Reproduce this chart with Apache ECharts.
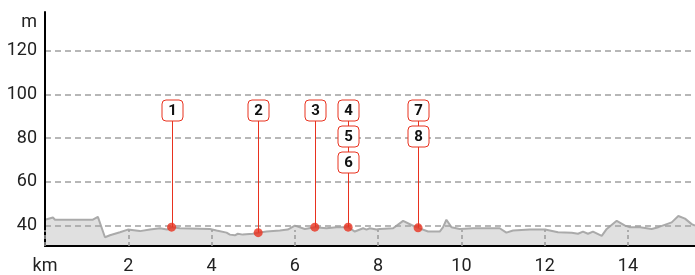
<!DOCTYPE html>
<html>
<head>
<meta charset="utf-8">
<script src="https://cdn.jsdelivr.net/npm/echarts@6/dist/echarts.min.js"></script>
<style>
  html, body { margin: 0; padding: 0; background: #fff; }
  #profile { width: 695px; height: 275px; }
</style>
</head>
<body>
<div id="profile"></div>
<script>
// elevation profile (km / m)
var distKm = [0, 0.19, 0.24, 1.15, 1.27, 1.44, 1.56, 1.80, 1.99, 2.28, 2.52, 2.76, 2.93, 3.04, 3.24,
  3.96, 4.12, 4.36, 4.44, 4.56, 4.63, 4.75, 4.99, 5.12, 5.32, 5.64, 5.83, 6.00, 6.24, 6.48,
  6.76, 7.00, 7.28, 7.44, 7.64, 7.72, 7.80, 7.96, 8.04, 8.36, 8.60, 8.80, 8.96, 9.20, 9.48,
  9.56, 9.64, 9.76, 9.96, 10.28, 10.92, 11.08, 11.24, 11.64, 12.01, 12.32, 12.65, 12.80, 12.92,
  13.04, 13.16, 13.37, 13.49, 13.73, 13.93, 14.05, 14.29, 14.57, 14.73, 15.05, 15.21, 15.37,
  15.53, 15.61];
var elevM = [42.7, 43.7, 42.7, 42.7, 44.0, 34.7, 35.6, 37.0, 38.2, 37.5, 38.2, 38.8, 38.2, 39.3, 38.8,
  38.5, 37.8, 36.8, 35.9, 35.6, 36.3, 35.9, 36.3, 36.8, 37.3, 37.8, 38.2, 40.0, 38.5, 39.3,
  38.8, 39.3, 39.3, 37.3, 38.8, 38.2, 38.8, 38.2, 38.5, 38.8, 42.2, 40.3, 39.0, 37.3, 37.3,
  39.3, 42.7, 39.3, 38.5, 38.8, 38.8, 36.8, 37.8, 38.2, 38.2, 37.0, 36.8, 36.3, 37.3,
  36.3, 37.3, 35.3, 38.5, 42.2, 40.0, 39.3, 39.3, 38.5, 39.3, 41.5, 44.4, 43.2,
  40.7, 40.0];

// points of interest
var poiKm = [3.04, 5.12, 6.48, 7.28, 8.96];
var poiElev = [39.3, 36.8, 39.3, 39.3, 39.0];
var poiTags = [['1'], ['2'], ['3'], ['4', '5', '6'], ['7', '8']];

var xTicks = [0, 2, 4, 6, 8, 10, 12, 14];

var RED = '#e8321f';
var LABEL_TOP = 93;     // elevation of the first row of boxes
var ROW = 26;           // px between stacked boxes
var BOX = 21;

var profileData = distKm.map(function (d, i) { return [d, elevM[i]]; });
var poiData = poiKm.map(function (d, i) { return [d, poiElev[i]]; });

var font = 'Roboto, "DejaVu Sans", sans-serif';

var option = {
  animation: false,
  grid: { left: 45, right: 0, top: 12, bottom: 25 },
  xAxis: {
    type: 'value',
    min: 0,
    max: 15.61,
    interval: 2,
    axisLine: { lineStyle: { color: '#000', width: 2 } },
    axisTick: { inside: true, length: 16, lineStyle: { color: '#999', width: 1.5, type: [4, 3] } },
    axisLabel: {
      margin: 11, color: '#222', fontSize: 18, fontFamily: font, showMaxLabel: false,
      formatter: function (v) {
        if (v === 0) return 'km';
        return xTicks.indexOf(v) >= 0 ? String(v) : '';
      }
    },
    splitLine: { show: false }
  },
  yAxis: {
    type: 'value',
    min: 30.7,
    max: 137.6,
    splitNumber: 5,
    name: 'm',
    nameLocation: 'end',
    nameGap: -10,
    nameTextStyle: { color: '#222', fontSize: 18, fontFamily: font, align: 'right', verticalAlign: 'middle', padding: [0, 8, 0, 0] },
    axisLine: { show: true, lineStyle: { color: '#000', width: 2 } },
    axisTick: { show: false },
    axisLabel: {
      margin: 8, color: '#222', fontSize: 18, fontFamily: font,
      showMinLabel: false, showMaxLabel: false,
      formatter: function (v) { return v % 20 === 0 ? String(v) : ''; }
    },
    splitLine: {
      show: true, showMinLine: false, showMaxLine: false,
      lineStyle: { color: '#a0a0a0', width: 1.5, type: [6, 4] }
    }
  },
  series: [
    {
      type: 'line',
      z: -1,
      data: profileData,
      symbol: 'none',
      lineStyle: { color: '#aaa', width: 2 },
      areaStyle: { color: '#e0e0e0', opacity: 1 }
    },
    {
      type: 'custom',
      z: 3,
      data: poiData,
      renderItem: function (params, api) {
        var tags = poiTags[params.dataIndex];
        var base = api.coord([api.value(0), api.value(1)]);
        var top = api.coord([api.value(0), LABEL_TOP]);
        var cx = Math.round(base[0]) + 0.5;
        var children = [{
          type: 'line',
          shape: { x1: cx, y1: base[1], x2: cx, y2: top[1] },
          style: { stroke: RED, lineWidth: 1 }
        }];
        tags.forEach(function (t, j) {
          var cy = Math.round(top[1] + j * ROW) + 0.5;
          children.push({
            type: 'rect',
            shape: { x: cx - BOX / 2, y: cy - BOX / 2, width: BOX, height: BOX, r: 4 },
            style: { fill: '#fff', stroke: RED, lineWidth: 1 }
          });
          children.push({
            type: 'text',
            x: cx, y: cy + 1,
            style: { text: t, fill: '#111', font: 'bold 15px ' + font, align: 'center', verticalAlign: 'middle' }
          });
        });
        return { type: 'group', children: children };
      }
    },
    {
      type: 'scatter',
      z: 4,
      data: poiData,
      symbolSize: 9,
      itemStyle: { color: RED }
    }
  ]
};

var chart = echarts.init(document.getElementById('profile'));
chart.setOption(option);
</script>
</body>
</html>
